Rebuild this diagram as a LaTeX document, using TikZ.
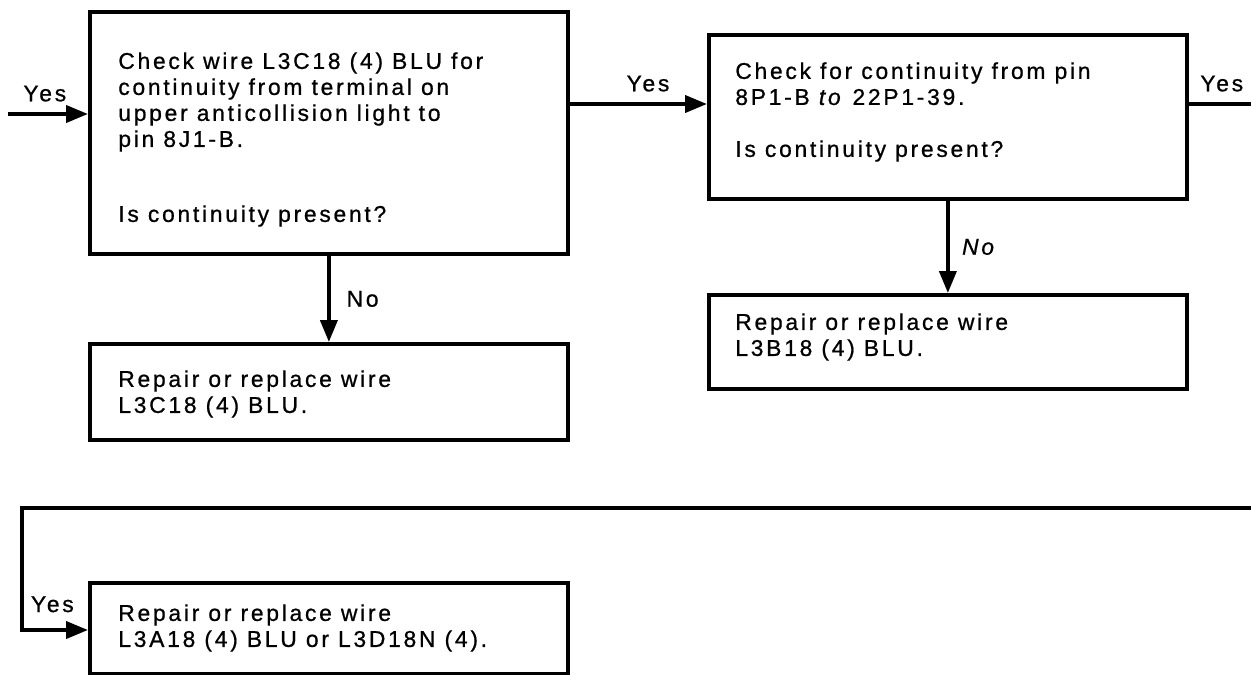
\documentclass[tikz,border=0pt]{standalone}
\usepackage{fontspec}
\setmainfont{Liberation Sans}[LetterSpace=12,FakeBold=0.8]
\usetikzlibrary{arrows.meta,positioning,calc}
\tikzset{
  chkbox/.style={draw,line width=2.2pt,anchor=north west,inner sep=0pt,minimum width=9.56cm},
  boxtxt/.style={align=left,inner sep=0pt,font=\fontsize{13}{14.8}\selectfont},
  flowline/.style={line width=2.2pt},
  flowarrow/.style={flowline,-{Triangle[length=4.4mm,width=3.4mm]}},
  anslbl/.style={font=\fontsize{13}{14}\selectfont,inner sep=1pt}
}
\begin{document}
\begin{tikzpicture}[x=0.02cm,y=-0.02cm]
\useasboundingbox (0,0) rectangle (1251,674);
% boxes
\node[chkbox,minimum height=4.84cm] (a) at (88,10) {};
\node[chkbox,minimum height=3.28cm] (b) at (707,33) {};
\node[chkbox,minimum height=1.92cm] (c) at (88,342) {};
\node[chkbox,minimum height=1.88cm] (d) at (707,293) {};
\node[chkbox,minimum height=1.82cm] (e) at (88,581) {};
% texts
\node[boxtxt,below right=0.84cm and 0.6cm of a.north west] (atxt)
  {Check wire L3C18 (4) BLU for\\continuity from terminal on\\upper anticollision light to\\pin 8J1-B.\\[0.98cm]Is continuity present?};
\node[boxtxt,below right=0.58cm and 0.56cm of b.north west] (btxt)
  {Check for continuity from pin\\8P1-B \textit{to} 22P1-39.\\[0.52cm]Is continuity present?};
\node[boxtxt,below right=0.56cm and 0.6cm of c.north west] (ctxt)
  {Repair or replace wire\\L3C18 (4) BLU.};
\node[boxtxt,below right=0.4cm and 0.56cm of d.north west] (dtxt)
  {Repair or replace wire\\L3B18 (4) BLU.};
\node[boxtxt,below right=0.46cm and 0.6cm of e.north west] (etxt)
  {Repair or replace wire\\L3A18 (4) BLU or L3D18N (4).};
% connectors
\coordinate (inl) at (8,114);
\coordinate (outr) at (1251,104);
\coordinate (looptop) at (1251,508);
\coordinate (loopl) at (22,508);
\coordinate (loopin) at (22,630);
\draw[flowarrow] (inl) -- (inl -| a.west)
  node[anslbl,pos=0.46,above=5pt] (y1) {Yes};
\draw[flowarrow] (a.east |- outr) -- (b.west |- outr)
  node[anslbl,pos=0.57,above=5pt] (y2) {Yes};
\draw[flowline] (b.east |- outr) -- (outr)
  node[anslbl,pos=0.53,above=5pt] (y3) {Yes};
\draw[flowarrow] (a.south) -- (c.north)
  node[anslbl,midway,right=8pt] (n1) {No};
\draw[flowarrow] (b.south) -- (d.north)
  node[anslbl,midway,right=6pt] (n2) {\textit{No}};
\draw[flowarrow] (looptop) -- (loopl) -- (loopin) -- (loopin -| e.west)
  node[anslbl,pos=0.46,above=8pt] (y4) {Yes};
\end{tikzpicture}
\end{document}
